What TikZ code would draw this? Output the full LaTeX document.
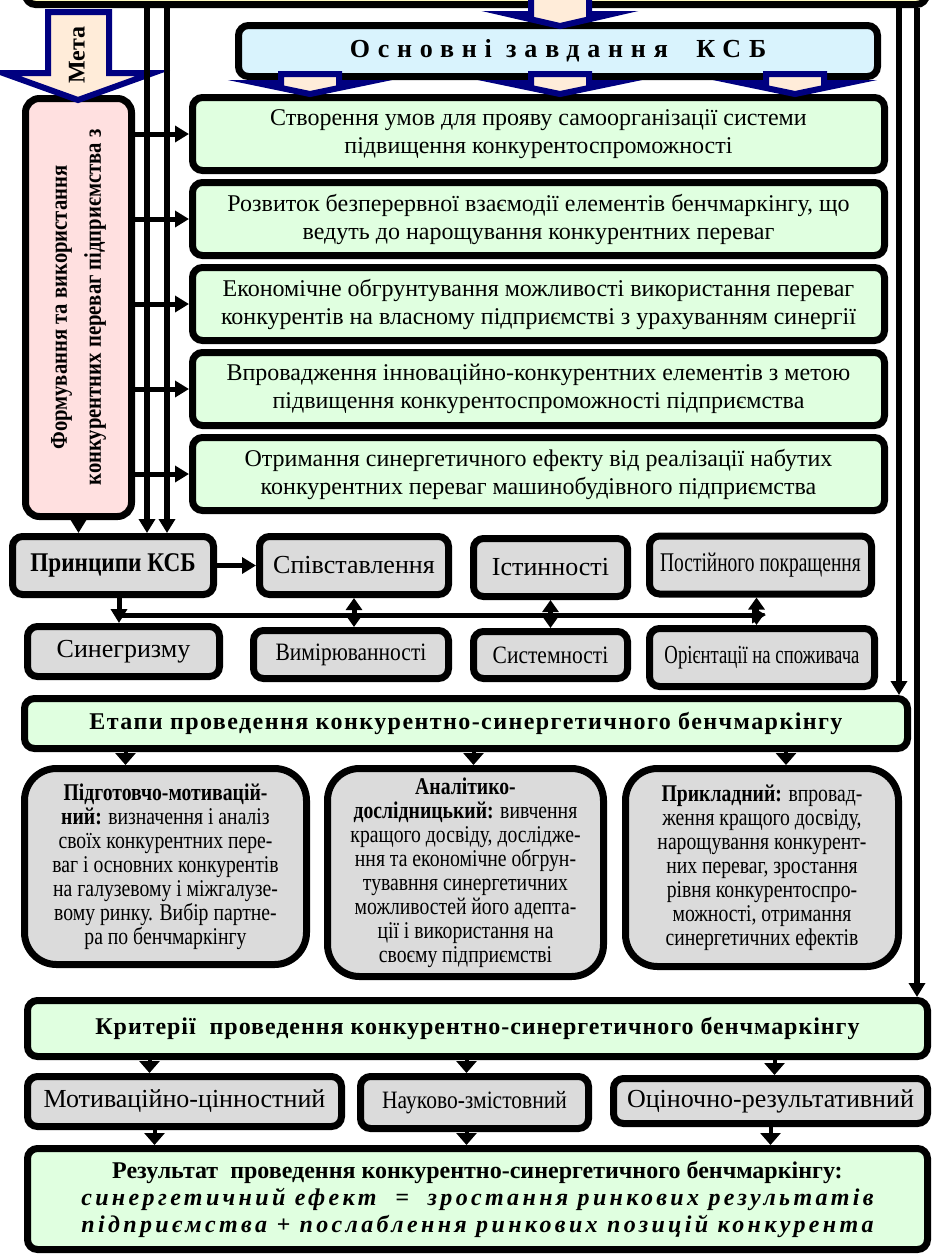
\documentclass[tikz,border=0pt]{standalone}
\usepackage{fontspec}
\setmainfont{Liberation Serif}
\newfontfamily\condfont[FakeStretch=0.72]{Liberation Serif}
\newfontfamily\semifont[FakeStretch=0.86]{Liberation Serif}
\newfontfamily\stagefont[FakeStretch=0.82]{Liberation Serif}
\usetikzlibrary{arrows.meta,calc}
\definecolor{navyblue}{RGB}{0,0,128}
\newcommand\fsz[2]{\fontsize{#1}{#2}\selectfont}

\begin{document}
\begin{tikzpicture}[x=0.5pt,y=-0.5pt,
  box/.style={draw,line width=3.5pt,rounded corners=5pt,align=center,inner sep=1pt},
  greenbox/.style={box,fill=green!12,minimum width=346pt,minimum height=36.5pt,font=\fsz{12}{14}},
  greybox/.style={box,fill=black!14},
  stagebox/.style={greybox,rounded corners=16pt,font=\stagefont\fsz{12}{12}},
  conn/.style={line width=2.5pt,-{Triangle[length=7pt,width=8pt]}},
  dconn/.style={line width=2.5pt,{Triangle[length=6pt,width=8pt]}-{Triangle[length=6pt,width=8pt]}},
  tri/.style={line width=2pt,-{Triangle[length=6pt,width=10pt]}},
  blockarr/.style={draw=navyblue,line width=3pt,fill=orange!15,line join=miter}]

  \useasboundingbox (0,0) rectangle (933,1255);
  \clip (0,0) rectangle (933,1255);

  % Frame above (cut off by the page)
  \node[box,fill=yellow!25,minimum width=450.5pt,minimum height=25.5pt] (top) at (476,-21) {};

  % Goal box
  \node[box,fill=red!12,rounded corners=7pt,minimum width=53pt,minimum height=209pt] (form) at (78.5,307.5) {};
  \node[rotate=90,align=center,font=\semifont\bfseries\fsz{12}{17}] (formtxt) at (form.center)
    {Формування та використання\\конкурентних переваг підприємства з};

  % Main tasks
  \node[box,fill=cyan!15,minimum width=319.5pt,minimum height=25.5pt,
        font=\bfseries\fsz{13}{15}\addfontfeatures{LetterSpace=30}] (main) at (558,51) {Основні завдання \ КСБ};
  \node[greenbox] (g1) at (538.5,134) {Створення умов для прояву самоорганізації системи\\підвищення конкурентоспроможності};
  \node[greenbox] (g2) at (538.5,219) {Розвиток безперервної взаємодії елементів бенчмаркінгу, що\\ведуть до нарощування конкурентних переваг};
  \node[greenbox] (g3) at (538.5,304) {Економічне обгрунтування можливості використання переваг\\конкурентів на власному підприємстві з урахуванням синергії};
  \node[greenbox] (g4) at (538.5,389) {Впровадження інноваційно-конкурентних елементів з метою\\підвищення конкурентоспроможності підприємства};
  \node[greenbox] (g5) at (538.5,474) {Отримання синергетичного ефекту від реалізації набутих\\конкурентних переваг машинобудівного підприємства};

  % Block arrows
  \draw[blockarr] (48,12) -- (109,12) -- (109,73) -- (153,73) -- (78,100) -- (3,73) -- (48,73) -- cycle;
  \node[rotate=90,font=\bfseries\fsz{12}{14}] (goal) at (77,55) {Мета};
  \draw[blockarr] (531,-5) -- (589,-5) -- (589,14) -- (612,14) -- (560,26) -- (508,14) -- (531,14) -- cycle;
  \foreach \cx in {310,560,795}
    \draw[blockarr] (\cx-29,74) -- (\cx+29,74) -- (\cx+29,83) -- (\cx+53,83) -- (\cx,94) -- (\cx-53,83) -- (\cx-29,83) -- cycle;

  % Principles
  \node[greybox,minimum width=100.5pt,minimum height=29pt,font=\semifont\bfseries\fsz{13.5}{15}] (prin) at (113,565.5) {Принципи КСБ};
  \node[greybox,minimum width=94.5pt,minimum height=29pt,font=\fsz{13}{15}] (spiv) at (354,565.5) {Співставлення};
  \node[greybox,minimum width=77pt,minimum height=29pt,font=\fsz{13}{15}] (istyn) at (550.5,567.5) {Істинності};
  \node[greybox,minimum width=111pt,minimum height=29pt,font=\condfont\fsz{13.5}{15}] (post) at (760.5,565) {Постійного покращення};
  \node[greybox,minimum width=96pt,minimum height=25pt,font=\fsz{13}{15}] (syn) at (123.5,651.5) {Синегризму};
  \node[greybox,minimum width=97.5pt,minimum height=24pt,font=\semifont\fsz{12.5}{15}] (vymir) at (351,654.5) {Вимірюванності};
  \node[greybox,minimum width=77pt,minimum height=23.5pt,font=\semifont\fsz{12.5}{15}] (syst) at (550.5,655) {Системності};
  \node[greybox,minimum width=112.5pt,minimum height=29pt,font=\condfont\fsz{13}{15}] (orient) at (762,657.5) {Орієнтації на споживача};

  % Stages
  \node[box,fill=green!12,minimum width=441.5pt,minimum height=25pt,
        font=\bfseries\fsz{12}{14}\addfontfeatures{LetterSpace=6}] (etapy) at (466,723.5)
    {Етапи проведення конкурентно-синергетичного бенчмаркінгу};
  \node[stagebox,minimum width=141pt,minimum height=98pt] (st1) at (165.5,866.5)
    {\textbf{Підготовчо-мотивацій-}\\\textbf{ний:} визначення і аналіз\\своїх конкурентних пере-\\ваг і основних конкурентів\\на галузевому і міжгалузе-\\вому ринку. Вибір партне-\\ра по бенчмаркінгу};
  \node[stagebox,minimum width=138pt,minimum height=104pt] (st2) at (465.5,872.5)
    {\textbf{Аналітико-}\\\textbf{дослідницький:} вивчення\\кращого досвіду, дослідже-\\ння та економічне обгрун-\\тувавння синергетичних\\можливостей його адепта-\\ції і використання на\\своєму підприємстві};
  \node[stagebox,minimum width=136.5pt,minimum height=99pt] (st3) at (762,867.5)
    {\textbf{Прикладний:} впровад-\\ження кращого досвіду,\\нарощування конкурент-\\них переваг, зростання\\рівня конкурентоспро-\\можності, отримання\\синергетичних ефектів};

  % Criteria
  \node[box,fill=green!12,minimum width=450pt,minimum height=28pt,
        font=\bfseries\fsz{12}{14}\addfontfeatures{LetterSpace=4}] (kryt) at (477.5,1028.5)
    {Критерії \ проведення конкурентно-синергетичного бенчмаркінгу};
  \node[greybox,minimum width=157pt,minimum height=25pt,font=\fsz{13}{15}] (motiv) at (184.5,1101.5) {Мотиваційно-цінностний};
  \node[greybox,minimum width=114pt,minimum height=26pt,font=\semifont\fsz{12.5}{15}] (nauk) at (474.5,1102.5) {Науково-змістовний};
  \node[greybox,minimum width=157pt,minimum height=22.5pt,font=\fsz{13}{15}] (otsin) at (770.5,1101) {Оціночно-результативний};

  % Result
  \node[box,fill=green!12,minimum width=450pt,minimum height=50.5pt,font=\fsz{12}{13.5}] (result) at (477.5,1199)
    {\textbf{Результат \ проведення конкурентно-синергетичного бенчмаркінгу:}\\
     {\bfseries\itshape\addfontfeatures{LetterSpace=14}синергетичний ефект \ = \ зростання ринкових результатів}\\
     {\bfseries\itshape\addfontfeatures{LetterSpace=14}підприємства + послаблення ринкових позицій конкурента}};

  % Lines from the frame above
  \coordinate (v1) at (147,8);
  \coordinate (v2) at (167,8);
  \coordinate (v3) at (899,8);
  \coordinate (v4) at (917,8);
  \draw[conn,line width=3pt] (v1) -- (v1 |- prin.north);
  \draw[conn,line width=3pt] (v2) -- (v2 |- prin.north);
  \draw[conn,line width=3pt] (v3) -- (v3 |- etapy.north);
  \draw[conn,line width=3pt] (v4) -- (v4 |- kryt.north);

  % Goal to tasks and principles
  \foreach \g in {g1,g2,g3,g4,g5}
    \draw[conn] (form.east |- \g.west) -- (\g.west);
  \draw[conn] (form.south) -- (form.south |- prin.north);

  % Principles links
  \coordinate (busL) at (119,615);
  \coordinate (busR) at (766,615);
  \draw[conn] (prin.east) -- (spiv.west);
  \draw[conn] (prin.south -| busL) -- (syn.north -| busL);
  \draw[conn] (busL) -- (busR);
  \draw[dconn] (spiv.south) -- (spiv.south |- vymir.north);
  \draw[dconn] (istyn.south) -- (istyn.south |- syst.north);
  \draw[dconn] ($(post.south)+(-4,0)$) -- ($(post.south |- orient.north)+(-4,0)$);

  % Short arrows
  \draw[tri] ($(etapy.south -| st1.north)+(-40,0)$) -- ($(st1.north)+(-40,0)$);
  \draw[tri] ($(etapy.south -| st2.north)+(8,0)$) -- ($(st2.north)+(8,0)$);
  \draw[tri] ($(etapy.south -| st3.north)+(24,0)$) -- ($(st3.north)+(24,0)$);
  \draw[tri] ($(kryt.south -| motiv.north)+(-35,0)$) -- ($(motiv.north)+(-35,0)$);
  \draw[tri] ($(kryt.south -| nauk.north)+(-8,0)$) -- ($(nauk.north)+(-8,0)$);
  \draw[tri] ($(kryt.south -| otsin.north)+(4,0)$) -- ($(otsin.north)+(4,0)$);
  \draw[tri] ($(motiv.south)+(-30,0)$) -- ($(motiv.south |- result.north)+(-30,0)$);
  \draw[tri] ($(nauk.south)+(-8,0)$) -- ($(nauk.south |- result.north)+(-8,0)$);
  \draw[tri] (otsin.south) -- (otsin.south |- result.north);
\end{tikzpicture}
\end{document}
